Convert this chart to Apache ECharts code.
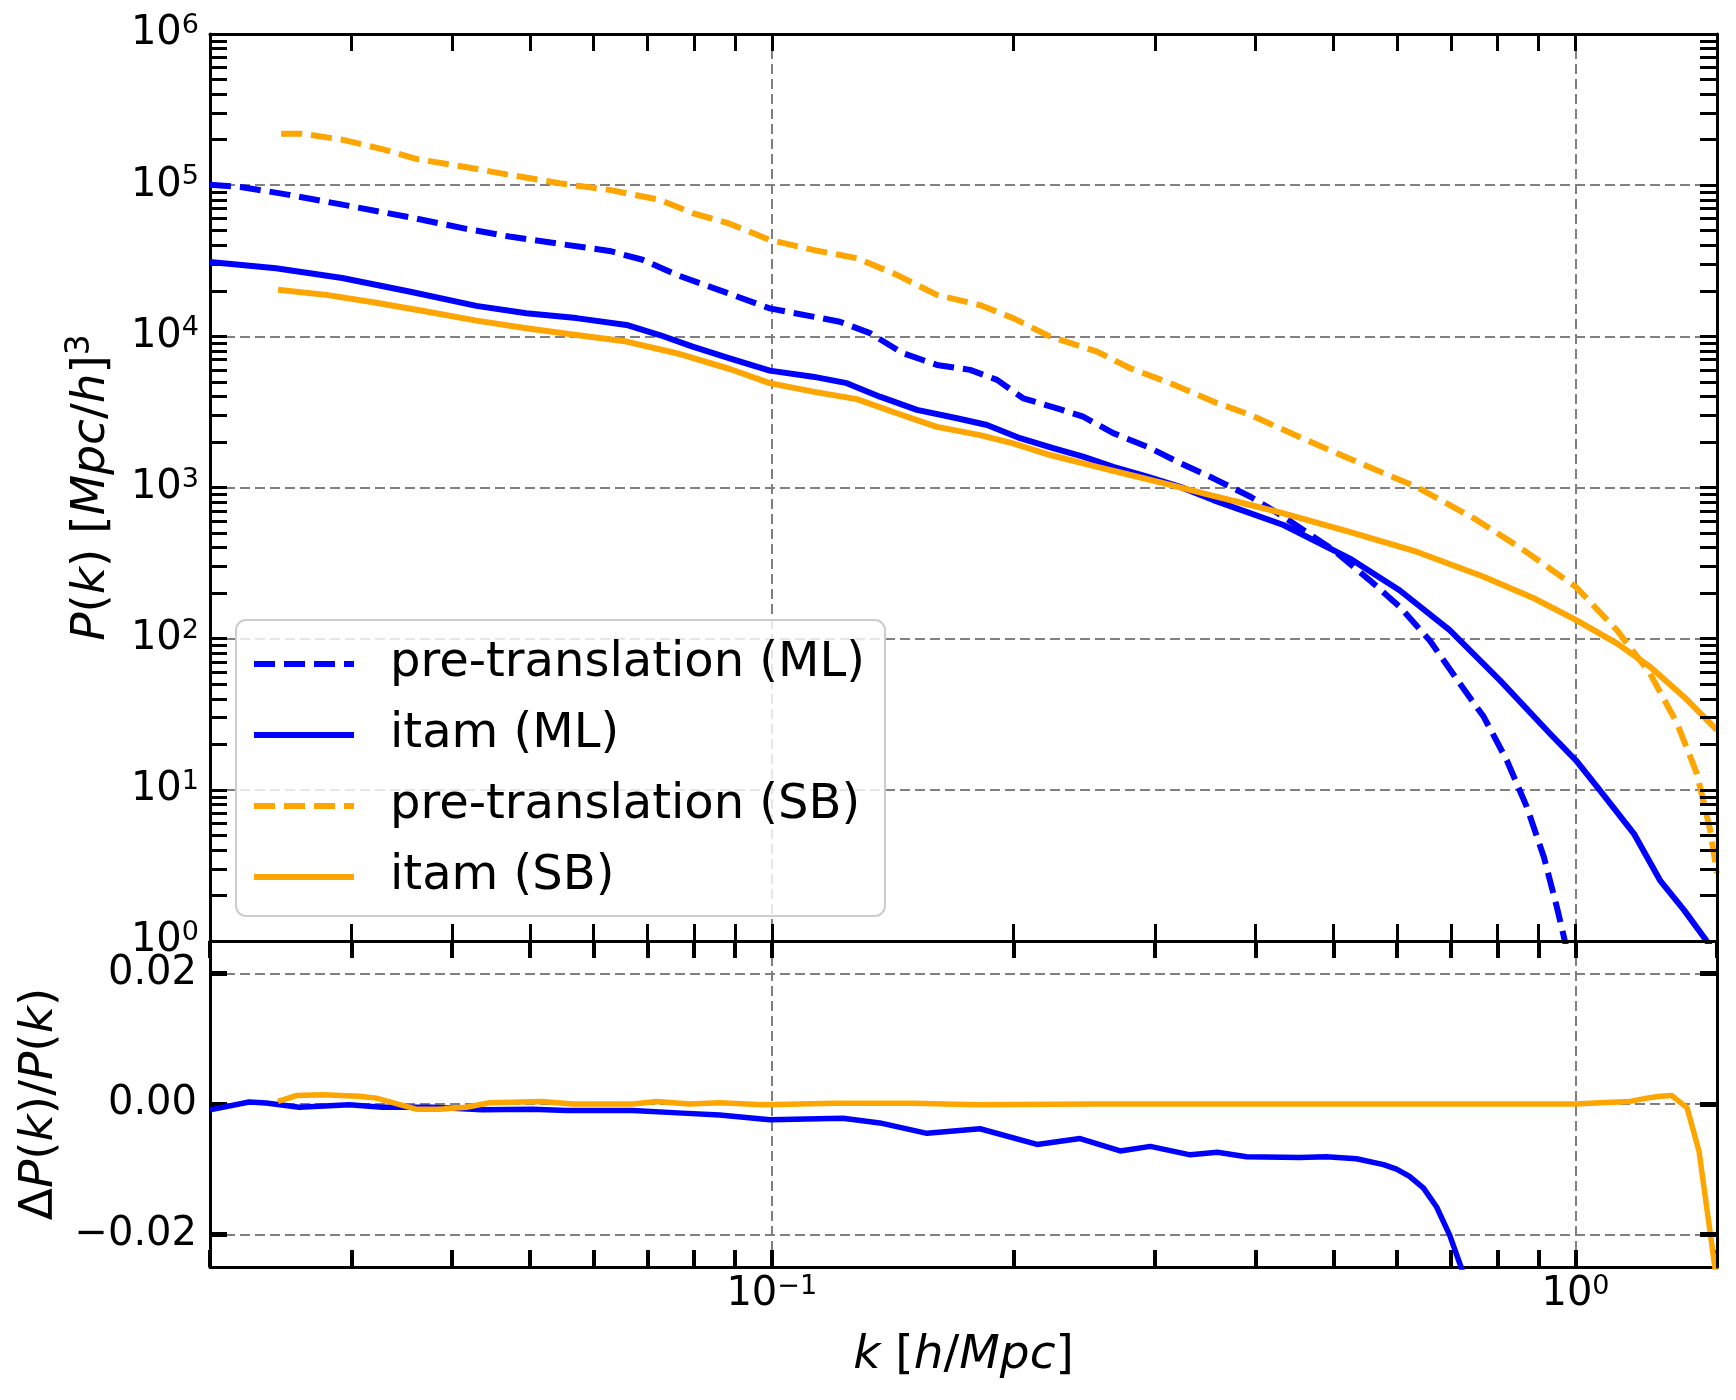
<!DOCTYPE html>
<html><head><meta charset="utf-8">
<script src="https://cdn.jsdelivr.net/npm/echarts@6/dist/echarts.min.js"></script>
<style>html,body{margin:0;padding:0;background:#fff}#c{width:1736px;height:1400px}</style>
</head><body><div id="c"></div>
<script>
// ---------------- data ----------------
const kPreML = [0.0200, 0.02193, 0.02509, 0.0298, 0.03539, 0.04169, 0.04716, 0.05444, 0.06282, 0.06907, 0.07613, 0.08865, 0.09943, 0.1125, 0.1215, 0.1325, 0.1456, 0.1605, 0.1765, 0.1907, 0.2055, 0.2265, 0.2440, 0.2660, 0.2933, 0.3223, 0.3543, 0.3941, 0.4332, 0.5000, 0.5543, 0.6041, 0.6584, 0.7178, 0.7689, 0.8214, 0.8698, 0.9134, 0.9480, 0.9700, 1.00];
const pPreML = [100700, 97000, 86300, 72900, 61400, 51400, 45700, 40900, 36700, 32100, 25500, 19100, 15300, 13500, 12500, 10500, 7730, 6470, 6000, 5150, 3890, 3340, 2940, 2290, 1860, 1450, 1150, 869, 641, 385, 244, 163, 97.7, 50.6, 30.4, 15.7, 7.71, 3.60, 1.68, 1.0, 0.5];

const kItamML = [0.0200, 0.02416, 0.02921, 0.03539, 0.0429, 0.04951, 0.05715, 0.06596, 0.07253, 0.07972, 0.08865, 0.09943, 0.1125, 0.1240, 0.1363, 0.1516, 0.1700, 0.1853, 0.2037, 0.2239, 0.2440, 0.2660, 0.2933, 0.3223, 0.3543, 0.4332, 0.5234, 0.6041, 0.6974, 0.8050, 0.9292, 1.001, 1.072, 1.182, 1.274, 1.365, 1.445, 1.500];
const pItamML = [31000, 28200, 24300, 19800, 15900, 14200, 13200, 11900, 10200, 8550, 7160, 5930, 5410, 4900, 3990, 3260, 2870, 2590, 2120, 1820, 1600, 1370, 1180, 1010, 826, 565, 340, 209, 114, 53.2, 23.6, 15.7, 9.95, 5.14, 2.52, 1.6, 1.06, 0.8];

const kPreSB = [0.02452, 0.02604, 0.02921, 0.03276, 0.03611, 0.04121, 0.04716, 0.05444, 0.06282, 0.07253, 0.07972, 0.08865, 0.09943, 0.1125, 0.1276, 0.1431, 0.1605, 0.1816, 0.1997, 0.2220, 0.2540, 0.2793, 0.3132, 0.3543, 0.3941, 0.4627, 0.5340, 0.6342, 0.7534, 0.8624, 1.001, 1.126, 1.238, 1.338, 1.416, 1.471, 1.500];
const pPreSB = [219000, 219000, 200000, 173000, 149000, 133000, 117000, 103000, 93100, 80000, 65300, 55600, 43400, 37300, 32900, 25500, 18800, 16100, 13200, 9950, 7930, 6150, 4900, 3700, 3020, 2060, 1480, 1010, 610, 385, 220, 114, 58.9, 27.5, 12.8, 5.41, 2.81];

const kItamSB = [0.0243, 0.0279, 0.03221, 0.03716, 0.0429, 0.04951, 0.05715, 0.06596, 0.07613, 0.08865, 0.09943, 0.1125, 0.1276, 0.1431, 0.1605, 0.1816, 0.1997, 0.2220, 0.2540, 0.2793, 0.3132, 0.3543, 0.3941, 0.4332, 0.5234, 0.6342, 0.7689, 0.8876, 1.001, 1.126, 1.238, 1.365, 1.500];
const pItamSB = [20300, 18800, 16700, 14600, 12700, 11300, 10200, 9230, 7730, 6080, 4900, 4310, 3840, 3100, 2520, 2220, 1960, 1640, 1370, 1210, 1040, 881, 766, 675, 509, 376, 257, 185, 133, 93.1, 65.2, 41.2, 24.8];

const kResML = [0.0200, 0.02237, 0.02349, 0.02582, 0.0298, 0.03276, 0.03781, 0.04365, 0.05037, 0.05554, 0.06711, 0.07746, 0.08614, 0.09943, 0.1226, 0.1363, 0.1560, 0.1816, 0.2138, 0.2419, 0.2714, 0.2958, 0.3317, 0.3584, 0.3896, 0.4535, 0.4899, 0.5340, 0.5771, 0.5988, 0.6216, 0.6471, 0.6718, 0.6974, 0.7219, 0.75];
const dResML = [-0.0009, 0.0003, 0.00015, -0.0005, -0.0001, -0.0005, -0.0005, -0.0009, -0.0008, -0.0010, -0.0010, -0.0014, -0.0017, -0.0024, -0.0022, -0.0029, -0.0045, -0.0038, -0.0062, -0.0053, -0.0072, -0.0065, -0.0078, -0.0074, -0.0081, -0.0082, -0.0081, -0.0084, -0.0093, -0.0100, -0.0111, -0.0129, -0.0158, -0.0201, -0.0253, -0.033];

const kResSB = [0.0243, 0.0256, 0.02758, 0.03068, 0.03221, 0.03611, 0.03858, 0.04169, 0.04454, 0.05184, 0.0565, 0.06711, 0.0719, 0.07903, 0.08614, 0.09745, 0.12, 0.15, 0.18, 0.25, 0.4, 0.6, 1.001, 1.072, 1.169, 1.227, 1.274, 1.318, 1.377, 1.425, 1.492, 1.5];
const dResSB = [0.0004, 0.0013, 0.0014, 0.0012, 0.0009, -0.0008, -0.0008, -0.0005, 0.0002, 0.0004, 0.0, 0.0, 0.0004, 0.0, 0.0002, -0.0001, 0.0001, 0.0001, -0.0001, 0.0, 0.0, 0.0, 0.0, 0.0002, 0.0004, 0.0009, 0.0012, 0.0013, -0.0006, -0.0073, -0.0253, -0.028];

const seriesNames = ['pre-translation (ML)', 'itam (ML)', 'pre-translation (SB)', 'itam (SB)'];
const kRange = [0.02, 1.5];
const pRange = [1, 1e6];
const dRange = [-0.025, 0.025];
const dTicks = [-0.02, 0, 0.02];

// ---------------- styling ----------------
const FONT = 'DejaVu Sans';
const BLUE = '#0000ff', ORANGE = '#ffa500';
const LW = 6;
const DASH = [21, 9];
const gridLine = {color: '#808080', width: 2, type: [10, 5]};

const pairs = (xs, ys) => xs.map((x, i) => [x, ys[i]]);

function sup10(v) {
  const e = Math.log10(v), r = Math.round(e);
  if (Math.abs(e - r) > 1e-6) return '';
  return '{b|10}{s|' + (r < 0 ? '\u2212' + (-r) : r) + '}';
}
const tickRich = {
  b: {fontFamily: FONT, fontSize: 40, lineHeight: 43, color: '#000'},
  s: {fontFamily: FONT, fontSize: 27, lineHeight: 26, verticalAlign: 'top', color: '#000'}
};
const TS = 47;
const nameRich = {
  i: {fontFamily: FONT, fontStyle: 'italic', fontSize: TS, lineHeight: 56, color: '#000'},
  n: {fontFamily: FONT, fontSize: TS, lineHeight: 56, color: '#000'},
  s: {fontFamily: FONT, fontSize: 33, lineHeight: 32, verticalAlign: 'top', color: '#000'}
};

function xAx(grid, pos, opts) {
  return Object.assign({
    gridIndex: grid, type: 'log', logBase: 10, min: kRange[0], max: kRange[1], position: pos,
    axisLine: {show: true, onZero: false, lineStyle: {color: '#000', width: 3}},
    axisTick: {show: true, inside: true, length: 17, lineStyle: {color: '#000', width: 3}},
    minorTick: {show: true, splitNumber: 9, length: 17, lineStyle: {color: '#000', width: 3}},
    axisLabel: {show: false},
    splitLine: {show: false},
    minorSplitLine: {show: false}
  }, opts || {});
}
function yLog(pos, opts) {
  return Object.assign({
    gridIndex: 0, type: 'log', logBase: 10, min: pRange[0], max: pRange[1], position: pos, splitNumber: 6,
    axisLine: {show: true, onZero: false, lineStyle: {color: '#000', width: 3}},
    axisTick: {show: true, inside: true, length: 17, lineStyle: {color: '#000', width: 3}},
    minorTick: {show: true, splitNumber: 9, length: 17, lineStyle: {color: '#000', width: 3}},
    axisLabel: {show: false},
    splitLine: {show: false},
    minorSplitLine: {show: false}
  }, opts || {});
}
function yRes(pos, opts) {
  return Object.assign({
    gridIndex: 1, type: 'value', min: dRange[0], max: dRange[1], position: pos,
    splitNumber: 3, minInterval: 0.02, maxInterval: 0.02,
    axisLine: {show: true, onZero: false, lineStyle: {color: '#000', width: 3}},
    axisTick: {show: true, inside: true, length: 17, customValues: dTicks, lineStyle: {color: '#000', width: 5}},
    axisLabel: {show: false},
    splitLine: {show: false}
  }, opts || {});
}

const option = {
  animation: false,
  backgroundColor: '#ffffff',
  grid: [
    {left: 210, top: 34, width: 1507, height: 907, outerBoundsMode: 'none', containLabel: false},
    {left: 210, top: 941, width: 1507, height: 326, outerBoundsMode: 'none', containLabel: false}
  ],
  xAxis: [
    xAx(0, 'bottom', {z: 0, splitLine: {show: true, showMinLine: false, showMaxLine: false, lineStyle: gridLine}}),
    xAx(0, 'top', {z: 3}),
    xAx(1, 'bottom', {
      z: 0,
      axisTick: {show: true, inside: true, length: 17, lineStyle: {color: '#000', width: 4}},
      minorTick: {show: true, splitNumber: 9, length: 17, lineStyle: {color: '#000', width: 4}},
      splitLine: {show: true, showMinLine: false, showMaxLine: false, lineStyle: gridLine},
      axisLabel: {show: true, margin: 6, formatter: sup10, rich: tickRich, showMinLabel: false, showMaxLabel: false},
      name: '{i|k}{n| [}{i|h}{n|/}{i|Mpc}{n|]}',
      nameLocation: 'middle', nameGap: 61,
      nameTextStyle: {fontFamily: FONT, fontSize: TS, color: '#000', rich: nameRich}
    }),
    xAx(1, 'top', {z: 3, axisTick: {show: true, inside: true, length: 17, lineStyle: {color: '#000', width: 4}},
      minorTick: {show: true, splitNumber: 9, length: 17, lineStyle: {color: '#000', width: 4}}})
  ],
  yAxis: [
    yLog('left', {
      z: 0,
      splitLine: {show: true, showMinLine: false, showMaxLine: false, lineStyle: gridLine},
      axisLabel: {show: true, margin: 11, formatter: sup10, rich: tickRich},
      name: '{i|P}{n|(}{i|k}{n|) [}{i|Mpc}{n|/}{i|h}{n|]}{s|3}',
      nameLocation: 'middle', nameRotate: 90, nameGap: 90,
      nameTextStyle: {fontFamily: FONT, fontSize: TS, color: '#000', rich: nameRich}
    }),
    yLog('right', {z: 3}),
    yRes('left', {
      z: 0,
      splitLine: {show: true, showMinLine: true, showMaxLine: true, lineStyle: gridLine},
      axisLabel: {show: true, margin: 13, customValues: dTicks,
        fontFamily: FONT, fontSize: 40, color: '#000',
        formatter: v => (v < -1e-9 ? '\u2212' : '') + Math.abs(v).toFixed(2)},
      name: '{n|\u0394}{i|P}{n|(}{i|k}{n|)/}{i|P}{n|(}{i|k}{n|)}',
      nameLocation: 'middle', nameRotate: 90, nameGap: 140,
      nameTextStyle: {fontFamily: FONT, fontSize: TS, color: '#000', rich: nameRich}
    }),
    yRes('right', {z: 3})
  ],
  legend: {
    show: true, orient: 'vertical', left: 236, top: 620,
    data: seriesNames,
    padding: [19, 20, 14, 15],
    itemWidth: 100, itemHeight: 20, itemGap: 21,
    backgroundColor: 'rgba(255,255,255,0.8)',
    borderColor: '#cccccc', borderWidth: 2, borderRadius: 10,
    itemStyle: {opacity: 0, borderWidth: 0},
    lineStyle: {width: LW},
    textStyle: {fontFamily: FONT, fontSize: 48, color: '#000', lineHeight: 50, padding: [0, 0, 0, 31]}
  },
  series: [
    {name: seriesNames[0], type: 'line', xAxisIndex: 0, yAxisIndex: 0, data: pairs(kPreML, pPreML),
     symbol: 'none', showSymbol: false, clip: true, z: 2,
     itemStyle: {color: BLUE}, lineStyle: {color: BLUE, width: LW, type: DASH, join: 'round'}},
    {name: seriesNames[1], type: 'line', xAxisIndex: 0, yAxisIndex: 0, data: pairs(kItamML, pItamML),
     symbol: 'none', showSymbol: false, clip: true, z: 2,
     itemStyle: {color: BLUE}, lineStyle: {color: BLUE, width: LW, type: 'solid', join: 'round'}},
    {name: seriesNames[2], type: 'line', xAxisIndex: 0, yAxisIndex: 0, data: pairs(kPreSB, pPreSB),
     symbol: 'none', showSymbol: false, clip: true, z: 2,
     itemStyle: {color: ORANGE}, lineStyle: {color: ORANGE, width: LW, type: DASH, join: 'round'}},
    {name: seriesNames[3], type: 'line', xAxisIndex: 0, yAxisIndex: 0, data: pairs(kItamSB, pItamSB),
     symbol: 'none', showSymbol: false, clip: true, z: 2,
     itemStyle: {color: ORANGE}, lineStyle: {color: ORANGE, width: LW, type: 'solid', join: 'round'}},
    {name: 'resML', type: 'line', xAxisIndex: 2, yAxisIndex: 2, data: pairs(kResML, dResML),
     symbol: 'none', showSymbol: false, clip: true, z: 2,
     itemStyle: {color: BLUE}, lineStyle: {color: BLUE, width: 5.5, join: 'round'}},
    {name: 'resSB', type: 'line', xAxisIndex: 2, yAxisIndex: 2, data: pairs(kResSB, dResSB),
     symbol: 'none', showSymbol: false, clip: true, z: 2,
     itemStyle: {color: ORANGE}, lineStyle: {color: ORANGE, width: 5.5, join: 'round'}}
  ]
};

const chart = echarts.init(document.getElementById('c'), null, {renderer: 'canvas', width: 1736, height: 1400});
chart.setOption(option);
</script></body></html>
